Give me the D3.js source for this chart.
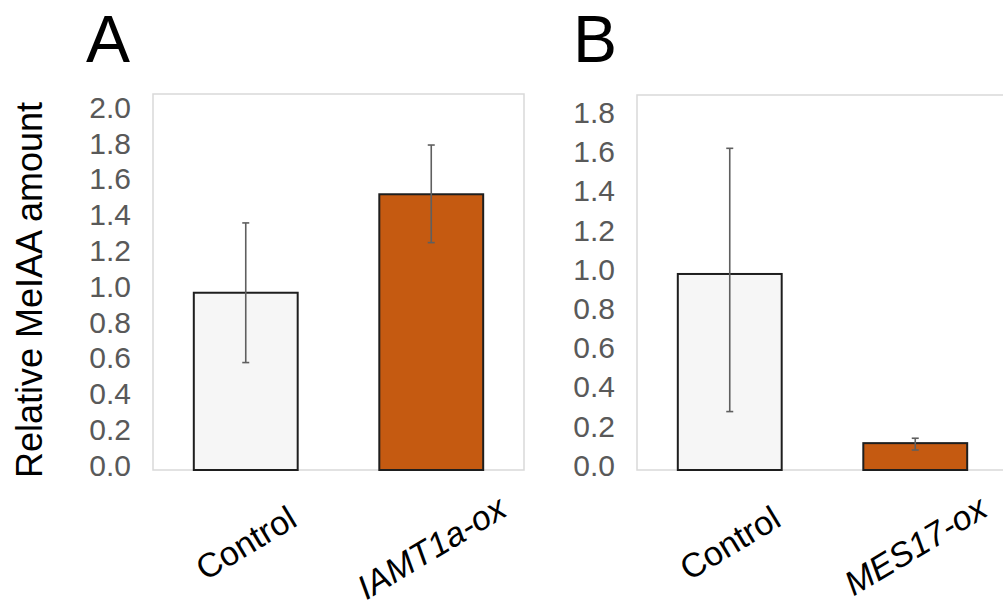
<!DOCTYPE html>
<html>
<head>
<meta charset="utf-8">
<script src="https://cdn.jsdelivr.net/npm/d3@7"></script>
<style>
  html, body { margin: 0; padding: 0; background: #ffffff; }
  svg { display: block; font-family: "Liberation Sans", Arial, sans-serif; }
</style>
</head>
<body>
<svg id="chart" width="1003" height="608"></svg>
<script>
// ---- data ----
const categoriesA = ["Control", "IAMT1a-ox"];
const valuesA = [0.99, 1.54];
const errHighA = [0.39, 0.275];
const errLowA = [0.39, 0.27];
const ticksA = [0.0, 0.2, 0.4, 0.6, 0.8, 1.0, 1.2, 1.4, 1.6, 1.8, 2.0];
const yMaxA = 2.1;

const categoriesB = ["Control", "MES17-ox"];
const valuesB = [1.0, 0.137];
const errHighB = [0.641, 0.025];
const errLowB = [0.702, 0.035];
const ticksB = [0.0, 0.2, 0.4, 0.6, 0.8, 1.0, 1.2, 1.4, 1.6, 1.8];
const yMaxB = 1.913;

const panelLetters = ["A", "B"];
const yTitle = "Relative MeIAA amount";
const barColors = ["#f6f6f6", "#c55a11"];
const italicCats = ["IAMT1a-ox", "MES17-ox"];

// ---- drawing ----
const svg = d3.select("#chart");

function drawPanel(opt) {
  const { cats, vals, errHi, errLo, ticks, yMax, left, right, top, bottom, letter, letterX, tickRight } = opt;
  const x = d3.scaleBand().domain(cats).range([left, right]).paddingInner(0.44).paddingOuter(0.22);
  const y = d3.scaleLinear().domain([0, yMax]).range([bottom, top]);
  const g = svg.append("g");

  // plot frame
  g.append("rect")
    .attr("x", left).attr("y", top)
    .attr("width", right - left).attr("height", bottom - top)
    .attr("fill", "none").attr("stroke", "#d9d9d9").attr("stroke-width", 1.5);

  // bars
  g.selectAll("rect.bar").data(cats).enter().append("rect")
    .attr("class", "bar")
    .attr("x", d => x(d))
    .attr("width", x.bandwidth())
    .attr("y", (d, i) => y(vals[i]))
    .attr("height", (d, i) => y(0) - y(vals[i]))
    .attr("fill", (d, i) => barColors[i])
    .attr("stroke", "#1e1e1e").attr("stroke-width", 2);

  // error bars
  const cxOf = d => x(d) + x.bandwidth() / 2;
  const eb = g.selectAll("g.err").data(cats).enter().append("g").attr("class", "err")
    .attr("stroke", "#5f5f5f").attr("stroke-width", 1.6);
  eb.append("line")
    .attr("x1", cxOf).attr("x2", cxOf)
    .attr("y1", (d, i) => y(vals[i] + errHi[i])).attr("y2", (d, i) => y(vals[i] - errLo[i]));
  eb.append("line")
    .attr("x1", d => cxOf(d) - 3.5).attr("x2", d => cxOf(d) + 3.5)
    .attr("y1", (d, i) => y(vals[i] + errHi[i])).attr("y2", (d, i) => y(vals[i] + errHi[i]));
  eb.append("line")
    .attr("x1", d => cxOf(d) - 3.5).attr("x2", d => cxOf(d) + 3.5)
    .attr("y1", (d, i) => y(vals[i] - errLo[i])).attr("y2", (d, i) => y(vals[i] - errLo[i]));

  // y axis
  const ax = g.append("g").attr("transform", `translate(${tickRight},0)`)
    .call(d3.axisLeft(y).tickValues(ticks).tickSize(0).tickPadding(0).tickFormat(d3.format(".1f")));
  ax.select(".domain").remove();
  ax.selectAll("text")
    .attr("fill", "#595959")
    .attr("font-size", 30)
    .attr("font-family", "Liberation Sans, Arial, sans-serif")
    .attr("dy", "0.18em");

  // category labels (rotated, ink box centered on the category)
  const theta = 31, rad = theta * Math.PI / 180, fs = 34;
  cats.forEach(c => {
    const italic = italicCats.includes(c);
    const labelTop = italic ? 494 : 504;
    const t = g.append("text")
      .attr("font-size", fs)
      .attr("fill", "#000")
      .attr("text-anchor", "middle")
      .attr("font-style", italic ? "italic" : "normal")
      .text(c);
    const L = t.node().getComputedTextLength();
    const h = 0.716 * fs;
    const halfH = (L * Math.sin(rad) + h * Math.cos(rad)) / 2;
    const cx = cxOf(c);
    const cy = labelTop + halfH;
    const bx = cx + (h / 2) * Math.sin(rad);
    const by = cy + (h / 2) * Math.cos(rad);
    t.attr("transform", `translate(${bx},${by}) rotate(${-theta})`);
  });

  // panel letter
  svg.append("text")
    .attr("x", letterX).attr("y", 62)
    .attr("font-size", 66).attr("fill", "#000")
    .text(letter);
}

drawPanel({ cats: categoriesA, vals: valuesA, errHi: errHighA, errLo: errLowA, ticks: ticksA, yMax: yMaxA,
  left: 153, right: 524, top: 94, bottom: 470, letter: panelLetters[0], letterX: 86, tickRight: 131 });
drawPanel({ cats: categoriesB, vals: valuesB, errHi: errHighB, errLo: errLowB, ticks: ticksB, yMax: yMaxB,
  left: 637, right: 1008, top: 95, bottom: 470, letter: panelLetters[1], letterX: 573, tickRight: 615 });

// y-axis title
svg.append("text")
  .attr("transform", "translate(42,290) rotate(-90)")
  .attr("text-anchor", "middle")
  .attr("font-size", 36)
  .attr("fill", "#000")
  .text(yTitle);
</script>
</body>
</html>
